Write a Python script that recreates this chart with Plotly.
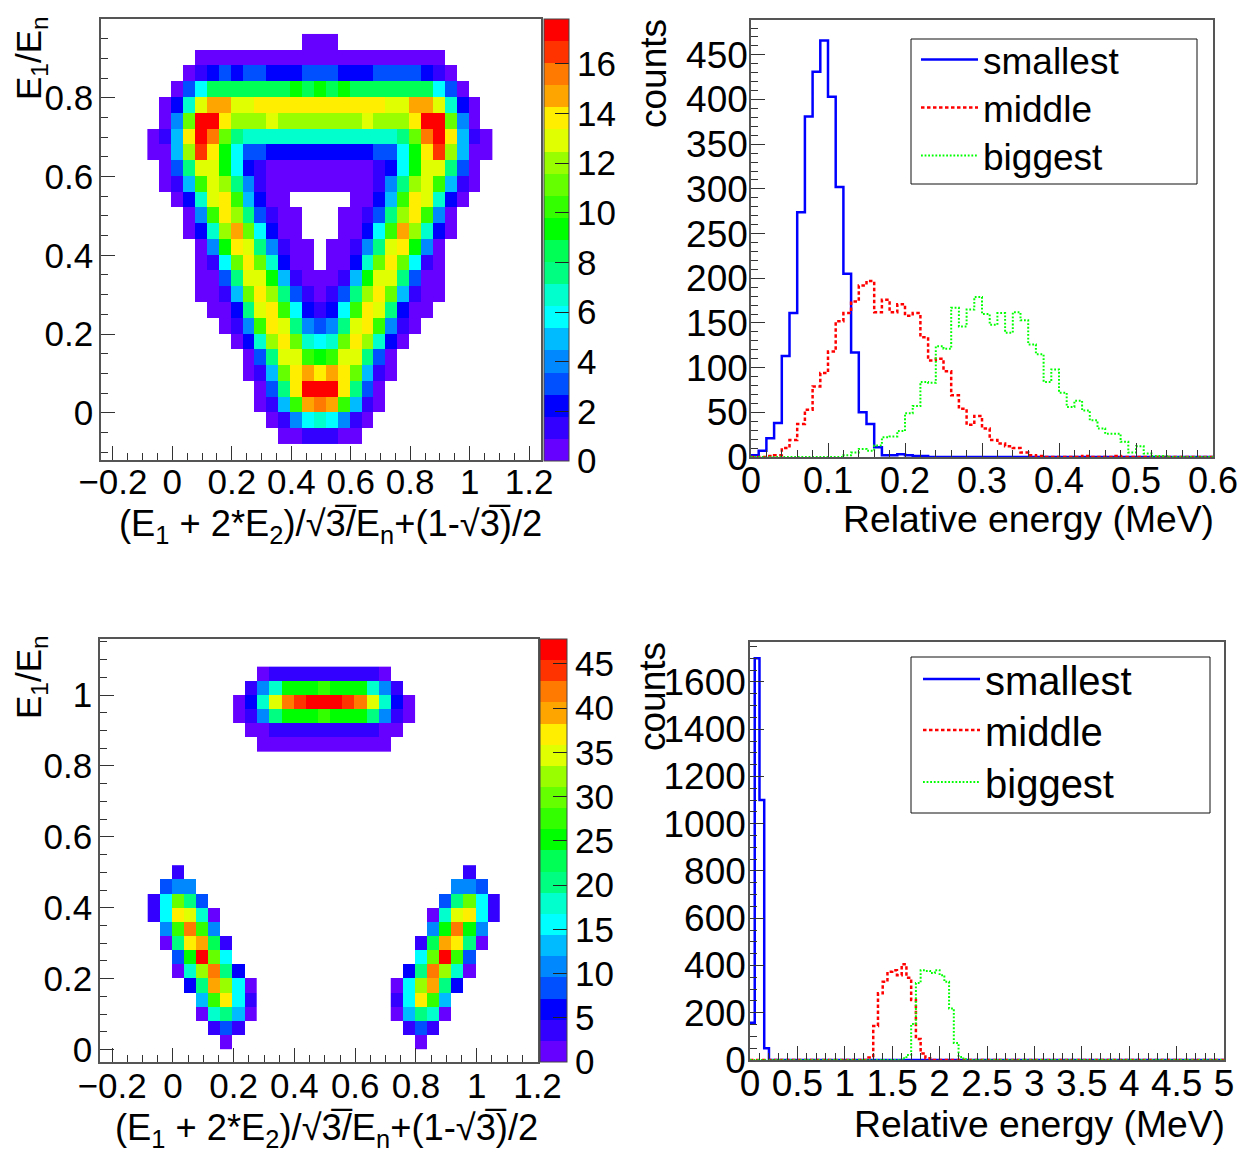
import plotly.graph_objects as go

W, H = 1250, 1158
FONT = "Liberation Sans"

# ---------- contour bands shared by both 2-D panels (low to high) ----------
band_colors = ["#6600ff", "#3300ff", "#0000ff", "#0050ff", "#0088ff", "#00bbff", "#00ffff",
               "#00ffcc", "#00ff80", "#00ff55", "#00ff00", "#33ff00", "#66ff00", "#99ff00",
               "#e0ff00", "#ffee00", "#ffa500", "#ff7a00", "#ff3300", "#ff0000"]

# ---------- panel 1: contour band read per cell, top row first, 0 = empty ----------
p1_levels = [
 [0,0,0,0,0,0,0,0,0,0,0,0,0,1,1,1,0,0,0,0,0,0,0,0,0,0,0,0,0],
 [0,0,0,0,1,1,1,1,1,1,1,1,1,1,1,1,1,1,1,1,1,1,1,1,1,0,0,0,0],
 [0,0,0,1,2,3,4,3,4,4,3,3,3,4,4,4,3,3,3,4,4,4,4,3,2,1,0,0,0],
 [0,0,1,4,7,10,10,10,10,10,10,10,11,10,11,10,11,10,10,10,10,10,10,10,7,4,1,0,0],
 [0,1,3,8,15,17,17,15,15,16,16,16,16,16,16,16,16,16,16,16,15,15,17,17,15,8,3,1,0],
 [0,1,5,13,20,20,16,14,14,14,15,14,14,14,14,14,14,14,15,14,14,14,16,20,20,13,5,1,0],
 [1,2,6,16,20,18,13,9,8,8,8,8,8,8,8,8,8,8,8,8,8,9,13,18,20,16,6,2,1],
 [1,1,6,14,19,16,11,7,4,4,3,3,3,3,3,3,3,3,3,4,4,7,11,16,19,14,6,1,1],
 [0,1,4,9,15,15,11,7,3,2,1,1,1,1,1,1,1,1,1,2,3,7,11,15,15,9,4,1,0],
 [0,1,2,6,12,15,14,9,5,2,1,1,1,1,1,1,1,1,1,2,5,9,14,15,12,6,2,1,0],
 [0,0,1,3,8,15,16,12,6,3,1,1,0,0,0,0,0,1,1,3,6,12,16,15,8,3,1,0,0],
 [0,0,0,1,5,12,16,14,9,4,2,1,1,0,0,0,1,1,2,4,9,14,16,12,5,1,0,0,0],
 [0,0,0,1,3,8,14,17,13,7,3,1,1,0,0,0,1,1,3,7,12,17,14,8,3,1,0,0,0],
 [0,0,0,0,1,5,11,16,15,9,5,2,1,1,0,1,1,2,5,9,15,16,11,5,1,0,0,0,0],
 [0,0,0,0,1,2,7,13,16,13,8,3,1,1,0,1,1,3,8,13,16,13,7,2,1,0,0,0,0],
 [0,0,0,0,1,1,4,9,15,15,11,6,2,1,1,1,2,6,11,15,15,9,4,1,1,0,0,0,0],
 [0,0,0,0,1,1,2,6,13,16,14,9,4,2,1,2,4,9,14,16,13,6,2,1,1,0,0,0,0],
 [0,0,0,0,0,1,1,3,9,15,16,12,7,3,2,3,7,12,16,15,9,3,1,1,0,0,0,0,0],
 [0,0,0,0,0,0,1,2,5,12,16,15,9,5,4,5,9,15,16,12,5,2,1,0,0,0,0,0,0],
 [0,0,0,0,0,0,0,1,3,8,14,16,13,8,7,8,13,16,14,8,3,1,0,0,0,0,0,0,0],
 [0,0,0,0,0,0,0,0,1,4,9,15,15,12,11,12,15,15,9,4,1,0,0,0,0,0,0,0,0],
 [0,0,0,0,0,0,0,0,1,2,6,13,16,17,16,17,16,13,6,2,1,0,0,0,0,0,0,0,0],
 [0,0,0,0,0,0,0,0,0,1,4,9,16,20,20,20,16,9,4,1,0,0,0,0,0,0,0,0,0],
 [0,0,0,0,0,0,0,0,0,1,2,6,12,17,18,17,12,6,2,1,0,0,0,0,0,0,0,0,0],
 [0,0,0,0,0,0,0,0,0,0,1,2,5,7,8,7,5,2,1,0,0,0,0,0,0,0,0,0,0],
 [0,0,0,0,0,0,0,0,0,0,0,1,1,2,2,2,1,1,0,0,0,0,0,0,0,0,0,0,0],
]

# ---------- panel 3: the three islands ----------
p3_top_levels = [
 [0,0,1,2,2,2,2,2,2,2,2,2,1,0,0],
 [0,2,5,8,11,11,11,12,11,11,11,8,5,2,0],
 [1,3,8,15,18,19,20,20,20,19,18,15,8,3,1],
 [1,2,5,9,11,11,11,12,11,11,11,9,5,2,1],
 [0,1,1,2,2,2,2,2,2,2,2,2,1,1,0],
 [0,0,1,1,1,1,1,1,1,1,1,1,1,0,0],
]
p3_left_levels = [
 [0,0,2,0,0,0,0,0,0],
 [0,4,5,5,0,0,0,0,0],
 [2,7,13,9,4,0,0,0,0],
 [2,7,16,15,8,1,0,0,0],
 [0,5,12,18,12,5,0,0,0],
 [0,1,9,16,17,10,2,0,0],
 [0,0,4,11,20,13,7,0,0],
 [0,0,1,8,14,18,9,3,0],
 [0,0,0,3,9,17,14,7,1],
 [0,0,0,0,6,12,16,7,2],
 [0,0,0,0,1,8,9,6,1],
 [0,0,0,0,0,2,4,2,0],
 [0,0,0,0,0,0,1,0,0],
]
p3_right_levels = [
 [0,0,0,0,0,0,2,0,0],
 [0,0,0,0,0,5,5,4,0],
 [0,0,0,0,4,9,13,7,2],
 [0,0,0,1,8,15,16,7,2],
 [0,0,0,5,11,18,11,5,0],
 [0,0,2,10,17,16,9,1,0],
 [0,0,7,13,20,12,4,0,0],
 [0,3,9,18,14,8,1,0,0],
 [1,7,14,17,9,3,0,0,0],
 [2,7,16,12,6,0,0,0,0],
 [1,6,9,8,1,0,0,0,0],
 [0,2,4,2,0,0,0,0,0],
 [0,0,1,0,0,0,0,0,0],
]

# ---------- panel 2: histograms, 0.01 MeV bins ----------
p2_smallest = [2,7,21,38,113,161,274,381,431,466,403,302,205,117,50,37,11,2,2,3,2,1,1,0,0,0,0,0,0,0,
               0,0,0,0,0,0,0,0,0,0,0,0,0,0,0,0,0,0,0,0,0,0,0,0,0,0,0,0,0,0]
p2_middle = [0,0,1,2,10,19,37,53,79,94,118,152,161,174,192,197,162,176,162,171,158,161,134,108,110,96,69,54,36,46,
             32,19,15,12,10,5,2,1,0,0,0,0,0,1,0,0,0,1,0,0,0,0,0,0,0,0,0,0,0,0]
p2_biggest = [0,0,0,0,0,0,0,0,0,0,0,0,2,5,9,7,13,22,23,29,49,57,84,83,124,121,167,146,165,179,
              160,148,161,139,162,153,126,115,84,98,72,56,63,52,41,32,26,26,17,5,12,4,1,1,0,0,0,0,0,0]

# ---------- panel 4: histograms, 0.05 MeV bins ----------
p4_smallest = [158,1700,1100,50] + [0] * 96
p4_middle = [0] * 25 + [11,144,282,331,374,380,359,405,348,254,89,28,7] + [0] * 62
p4_biggest = [0] * 32 + [7,21,152,326,380,377,368,380,359,331,218,72,13,3] + [0] * 54

series_names = ["smallest", "middle", "biggest"]
xlabel_2d = "(E<sub>1</sub> + 2*E<sub>2</sub>)/√3\u0305/E<sub>n</sub>+(1-√3\u0305)/2"
ylabel_2d = "E<sub>1</sub>/E<sub>n</sub>"
xlabel_1d = "Relative energy (MeV)"
ylabel_1d = "counts"

P1_ZMAX, P3_ZMAX = 17.8, 47.8


def dx(a, b):
    return [a / W, b / W]


def dy(top, bottom):
    return [1 - bottom / H, 1 - top / H]


def stepped_scale():
    n = len(band_colors)
    out = []
    for i, c in enumerate(band_colors):
        out += [[i / n, c], [(i + 1) / n, c]]
    return out


def to_values(levels, zmax):
    bw = zmax / len(band_colors)
    return [[None if v == 0 else (v - 0.5) * bw for v in row] for row in levels[::-1]]


fig = go.Figure()
fig.add_trace(go.Heatmap(z=to_values(p1_levels, P1_ZMAX), x0=-0.064, dx=0.04, y0=-0.058, dy=0.04,
                         xaxis="x", yaxis="y", coloraxis="coloraxis", hoverongaps=False))
for lv, x0, y0 in [(p3_top_levels, 0.218, 0.86), (p3_left_levels, -0.063, 0.02), (p3_right_levels, 0.737, 0.02)]:
    fig.add_trace(go.Heatmap(z=to_values(lv, P3_ZMAX), x0=x0, dx=0.04, y0=y0, dy=0.04,
                             xaxis="x3", yaxis="y3", coloraxis="coloraxis2", hoverongaps=False))

styles = [dict(color="#0000ff", width=2.5),
          dict(color="#ff0000", width=2.5, dash="3.5px,2.5px"),
          dict(color="#00ff00", width=2, dash="1.8px,1.8px")]

legends = {}


def legend_row(left, center, size, itemw):
    return dict(x=left / W, xanchor="left", y=1 - center / H, yanchor="middle", bgcolor="rgba(0,0,0,0)",
                borderwidth=0, font=dict(family=FONT, size=size, color="#000000"), itemwidth=itemw)


def add_hist(series, binw, xa, ya, first, left, centers, size, itemw):
    for k, (name, vals, st, c) in enumerate(zip(series_names, series, styles, centers)):
        key = "legend" if first + k == 1 else f"legend{first + k}"
        legends[key] = legend_row(left, c, size, itemw)
        fig.add_trace(go.Scatter(x=[binw * i for i in range(len(vals) + 1)], y=vals + [vals[-1]],
                                 mode="lines", line=dict(shape="hv", **st), name=name,
                                 xaxis=xa, yaxis=ya, legend=key, cliponaxis=False))


add_hist([p2_smallest, p2_middle, p2_biggest], 0.01, "x2", "y2", 1, 916, [60, 108, 156], 37, 57)
add_hist([p4_smallest, p4_middle, p4_biggest], 0.05, "x4", "y4", 4, 918, [679, 730, 782], 40, 57)

AX = dict(showgrid=False, zeroline=False, showline=True, mirror=True, linecolor="#555555", linewidth=1.5,
          ticks="inside", tickcolor="#333333", tickwidth=1.2, ticklen=14)


def axis(domain, rng, dtick, minor, anchor, size, standoff):
    return dict(AX, domain=domain, range=rng, dtick=dtick, tick0=0, anchor=anchor, autorange=False,
                tickfont=dict(family=FONT, size=size, color="#000000"), ticklabelstandoff=standoff,
                minor=dict(dtick=minor, tick0=0, ticks="inside", ticklen=7, tickcolor="#333333", tickwidth=1.2))


def cbar(top, bottom, left, thick, dtick):
    return dict(x=left / W, xanchor="left", xref="paper", xpad=0,
                y=1 - bottom / H, yanchor="bottom", yref="paper", ypad=0,
                len=(bottom - top) / H, lenmode="fraction", thickness=thick, thicknessmode="pixels",
                outlinecolor="#444444", outlinewidth=1, ticks="inside", ticklen=14, tickwidth=1.2,
                tickcolor="#222222", dtick=dtick, tick0=0,
                tickfont=dict(family=FONT, size=35, color="#000000"))


anns = []


def note(text, x, y, size=37, angle=0, xanchor="right", yanchor="middle"):
    anns.append(dict(text=text, x=x / W, y=1 - y / H, xref="paper", yref="paper", showarrow=False,
                     xanchor=xanchor, yanchor=yanchor, textangle=angle,
                     font=dict(family=FONT, size=size, color="#000000")))


note(xlabel_2d, 544, 526, size=36.3)
note(xlabel_2d, 540, 1130, size=36.3)
note(xlabel_1d, 1216, 519, size=37.3)
note(xlabel_1d, 1227, 1124, size=37.3)
note(ylabel_2d, 31, 58, size=35, angle=-90, xanchor="center")
note(ylabel_2d, 31, 677, size=35, angle=-90, xanchor="center")
note(ylabel_1d, 654, 74, angle=-90, xanchor="center")
note(ylabel_1d, 652, 696, angle=-90, xanchor="center")


def box(x0, x1, top, bottom):
    return dict(type="rect", xref="paper", yref="paper", x0=x0 / W, x1=x1 / W, y0=1 - bottom / H, y1=1 - top / H,
                line=dict(color="#111111", width=1), fillcolor="rgba(0,0,0,0)", layer="above")


fig.update_layout(
    width=W, height=H, margin=dict(l=0, r=0, t=0, b=0, autoexpand=False),
    paper_bgcolor="#ffffff", plot_bgcolor="#ffffff", showlegend=True,
    font=dict(family=FONT),
    xaxis=axis(dx(101, 541), [-0.24, 1.24], 0.2, 0.05, "y", 35, -10),
    yaxis=axis(dy(19, 460), [-0.12, 1.0], 0.2, 0.05, "x", 35, -1),
    xaxis2=axis(dx(751, 1213), [0, 0.6], 0.1, 0.02, "y2", 36, -9),
    yaxis2=axis(dy(20, 457), [0, 489], 50, 10, "x2", 37, -6),
    xaxis3=axis(dx(100, 537.5), [-0.24, 1.2], 0.2, 0.05, "y3", 35, -8),
    yaxis3=axis(dy(639, 1062), [-0.035, 1.158], 0.2, 0.05, "x3", 35, -1),
    xaxis4=axis(dx(750, 1224), [0, 5], 0.5, 0.1, "y4", 37, -10),
    yaxis4=axis(dy(642, 1060), [0, 1769], 200, 50, "x4", 37, -5),
    coloraxis=dict(cmin=0, cmax=P1_ZMAX, colorscale=stepped_scale(), colorbar=cbar(19.5, 461, 543.5, 24.5, 2)),
    coloraxis2=dict(cmin=0, cmax=P3_ZMAX, colorscale=stepped_scale(), colorbar=cbar(639, 1062, 540, 27, 5)),
    shapes=[box(911, 1197, 39, 184), box(911, 1210, 657, 813)],
    annotations=anns,
    **legends,
)

fig.write_html("out.html", config={"displayModeBar": False},
               post_script="document.body.style.margin='0';document.body.style.overflow='hidden';")
